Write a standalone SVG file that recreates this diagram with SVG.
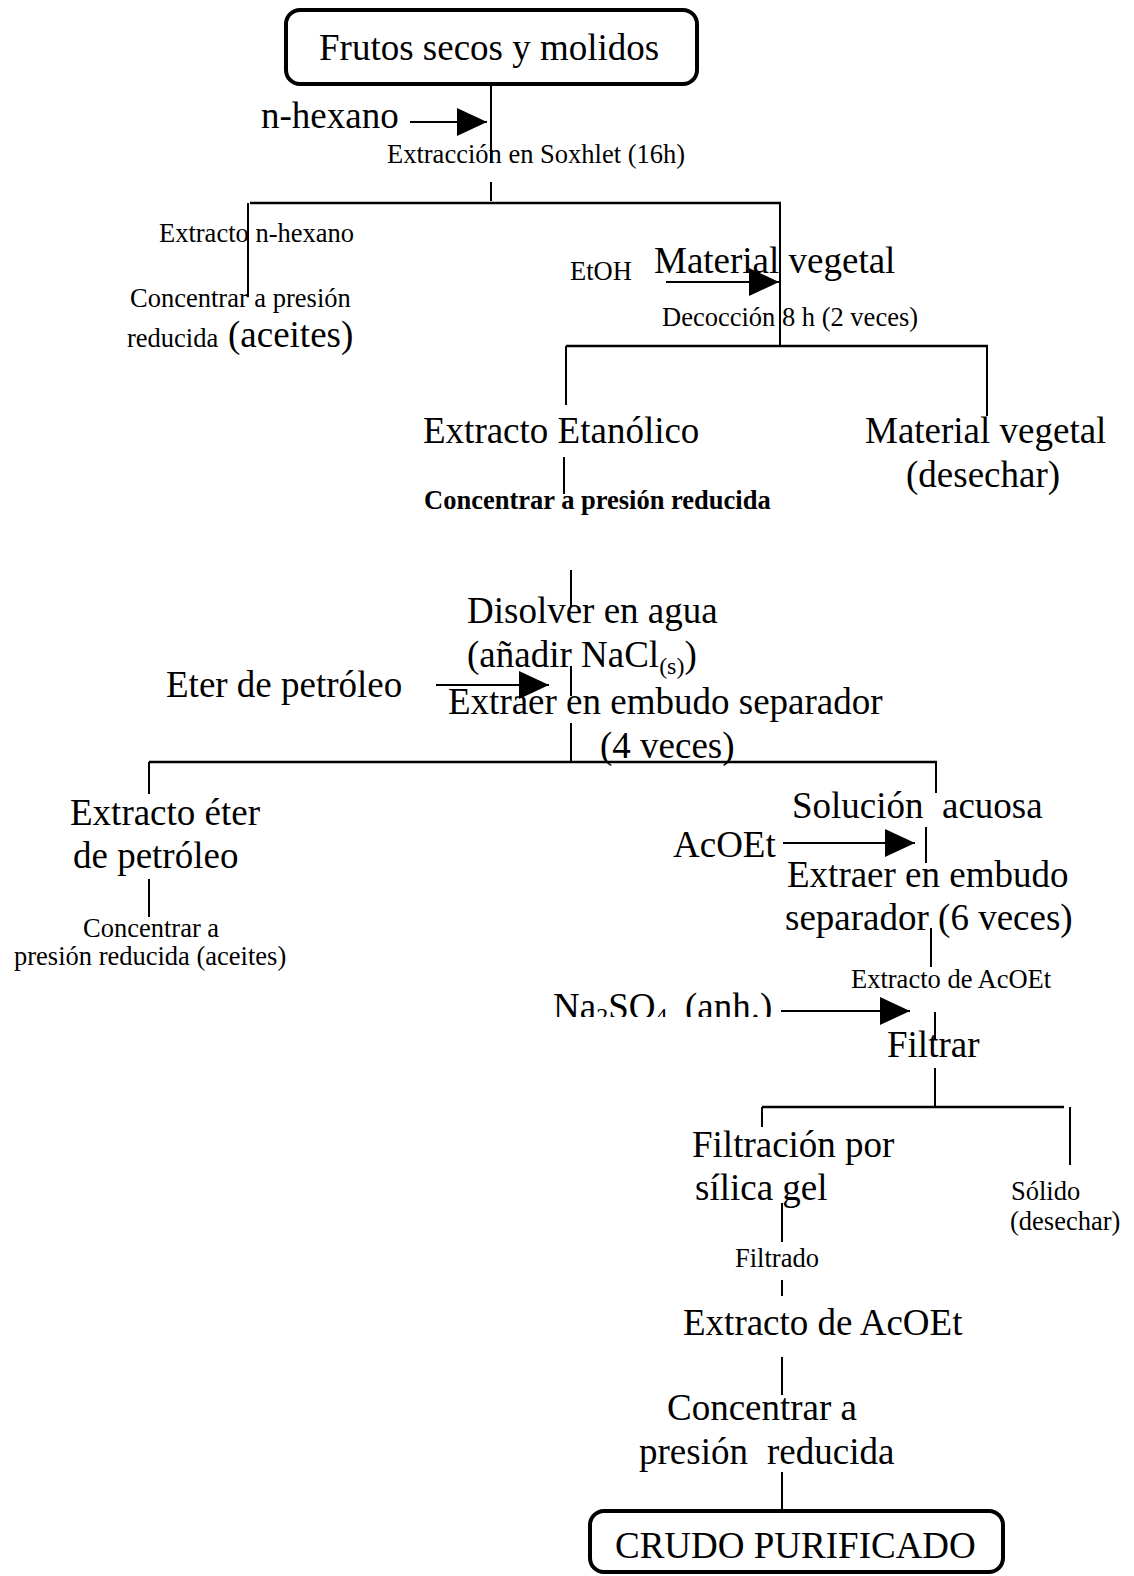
<svg xmlns="http://www.w3.org/2000/svg" width="1134" height="1576" viewBox="0 0 1134 1576">
<style>
text{font-family:"Liberation Serif","Times New Roman",serif;fill:#000}
.L{font-size:37px}
.S{font-size:26.5px}
.B{font-size:26.5px;font-weight:bold}
.sub{font-size:24px}
.box{fill:#fff;stroke:#000;stroke-width:4}
.c line{stroke:#000;stroke-width:2}
.c line.h{stroke-width:2.6}
.c line.a{stroke-width:2}
</style>
<defs>
<marker id="ah" markerUnits="userSpaceOnUse" markerWidth="30" markerHeight="28" refX="30" refY="14" orient="auto">
<path d="M0,0 L30,14 L0,28 Z" fill="#000"/>
</marker>
<clipPath id="naclip"><rect x="540" y="980" width="240" height="37"/></clipPath>
</defs>
<rect width="1134" height="1576" fill="#fff"/>
<g class="c" id="connectors">
<line x1="491" y1="84" x2="491" y2="163"/>
<line x1="491" y1="182" x2="491" y2="201"/>
<line class="h" x1="250" y1="203" x2="781" y2="203"/>
<line x1="248" y1="203" x2="248" y2="297"/>
<line x1="780" y1="203" x2="780" y2="347"/>
<line class="h" x1="566" y1="346" x2="988" y2="346"/>
<line x1="566" y1="346" x2="566" y2="405"/>
<line x1="987" y1="346" x2="987" y2="416"/>
<line x1="564" y1="457" x2="564" y2="494"/>
<line x1="571" y1="570" x2="571" y2="607"/>
<line x1="571" y1="666" x2="571" y2="696"/>
<line x1="571" y1="723" x2="571" y2="762"/>
<line class="h" x1="149" y1="762" x2="937" y2="762"/>
<line x1="149" y1="762" x2="149" y2="794"/>
<line x1="936" y1="762" x2="936" y2="793"/>
<line x1="149" y1="879" x2="149" y2="917"/>
<line x1="926" y1="827" x2="926" y2="863"/>
<line x1="931" y1="928" x2="931" y2="967"/>
<line x1="935" y1="1012" x2="935" y2="1040"/>
<line x1="935" y1="1068" x2="935" y2="1107"/>
<line class="h" x1="762" y1="1107" x2="1064" y2="1107"/>
<line x1="762" y1="1107" x2="762" y2="1127"/>
<line x1="1070" y1="1107" x2="1070" y2="1165"/>
<line x1="782" y1="1203" x2="782" y2="1242"/>
<line x1="782" y1="1280" x2="782" y2="1296"/>
<line x1="782" y1="1357" x2="782" y2="1395"/>
<line x1="782" y1="1472" x2="782" y2="1511"/>
<line class="a" x1="410" y1="122" x2="487" y2="122" marker-end="url(#ah)"/>
<line class="a" x1="666" y1="282" x2="779" y2="282" marker-end="url(#ah)"/>
<line class="a" x1="436" y1="685" x2="549" y2="685" marker-end="url(#ah)"/>
<line class="a" x1="783" y1="843" x2="915" y2="843" marker-end="url(#ah)"/>
<line class="a" x1="781" y1="1011" x2="910" y2="1011" marker-end="url(#ah)"/>
</g>
<g id="frutos">
<rect class="box" x="286" y="10" width="411" height="74" rx="14"/>
<text class="L" x="319" y="60">Frutos secos y molidos</text>
</g>
<g id="nhexano"><text class="L" x="261" y="128">n-hexano</text></g>
<g id="soxhlet"><text class="S" x="387" y="163">Extracción en Soxhlet (16h)</text></g>
<g id="extracto-nhexano">
<text class="S" x="159" y="242">Extracto n-hexano</text>
<text class="S" x="130" y="307">Concentrar a presión</text>
<text x="127" y="347"><tspan class="S">reducida </tspan><tspan class="L" x="228">(aceites)</tspan></text>
</g>
<g id="etoh"><text class="S" x="570" y="280">EtOH</text></g>
<g id="material-vegetal"><text class="L" x="654" y="273">Material vegetal</text></g>
<g id="decoccion"><text class="S" x="662" y="326">Decocción 8 h (2 veces)</text></g>
<g id="extracto-etanolico"><text class="L" x="423" y="443">Extracto Etanólico</text></g>
<g id="material-desechar">
<text class="L" x="865" y="443">Material vegetal</text>
<text class="L" x="906" y="487">(desechar)</text>
</g>
<g id="concentrar-1"><text class="B" x="424" y="509">Concentrar a presión reducida</text></g>
<g id="disolver">
<text class="L" x="467" y="623">Disolver en agua</text>
<text class="L" x="467" y="667">(añadir NaCl<tspan class="sub" dy="7">(s)</tspan><tspan dy="-7">)</tspan></text>
</g>
<g id="eter"><text class="L" x="166" y="697">Eter de petróleo</text></g>
<g id="extraer-1">
<text class="L" x="448" y="714">Extraer en embudo separador</text>
<text class="L" x="600" y="758">(4 veces)</text>
</g>
<g id="extracto-eter">
<text class="L" x="70" y="825">Extracto éter</text>
<text class="L" x="73" y="868">de petróleo</text>
<text class="S" x="83" y="937">Concentrar a</text>
<text class="S" x="14" y="965">presión reducida (aceites)</text>
</g>
<g id="solucion-acuosa"><text class="L" x="792" y="818">Solución<tspan x="942">acuosa</tspan></text></g>
<g id="acoet"><text class="L" x="673" y="857">AcOEt</text></g>
<g id="extraer-2">
<text class="L" x="787" y="887">Extraer en embudo</text>
<text class="L" x="785" y="930">separador (6 veces)</text>
</g>
<g id="extracto-acoet-1"><text class="S" x="851" y="988">Extracto de AcOEt</text></g>
<g id="na2so4" clip-path="url(#naclip)"><text class="L" x="553" y="1019">Na<tspan class="sub" dy="5">2</tspan><tspan dy="-5">SO</tspan><tspan class="sub" dy="5">4</tspan><tspan dy="-5" x="685">(anh.)</tspan></text></g>
<g id="filtrar"><text class="L" x="887" y="1057">Filtrar</text></g>
<g id="filtracion">
<text class="L" x="692" y="1157">Filtración por</text>
<text class="L" x="695" y="1200">sílica gel</text>
</g>
<g id="solido">
<text class="S" x="1011" y="1200">Sólido</text>
<text class="S" x="1010" y="1230">(desechar)</text>
</g>
<g id="filtrado"><text class="S" x="735" y="1267">Filtrado</text></g>
<g id="extracto-acoet-2"><text class="L" x="683" y="1335">Extracto de AcOEt</text></g>
<g id="concentrar-2">
<text class="L" x="667" y="1420">Concentrar a</text>
<text class="L" x="639" y="1464">presión<tspan x="767">reducida</tspan></text>
</g>
<g id="crudo">
<rect class="box" x="590" y="1511" width="413" height="61" rx="14"/>
<text class="L" x="615" y="1558">CRUDO PURIFICADO</text>
</g>
</svg>
